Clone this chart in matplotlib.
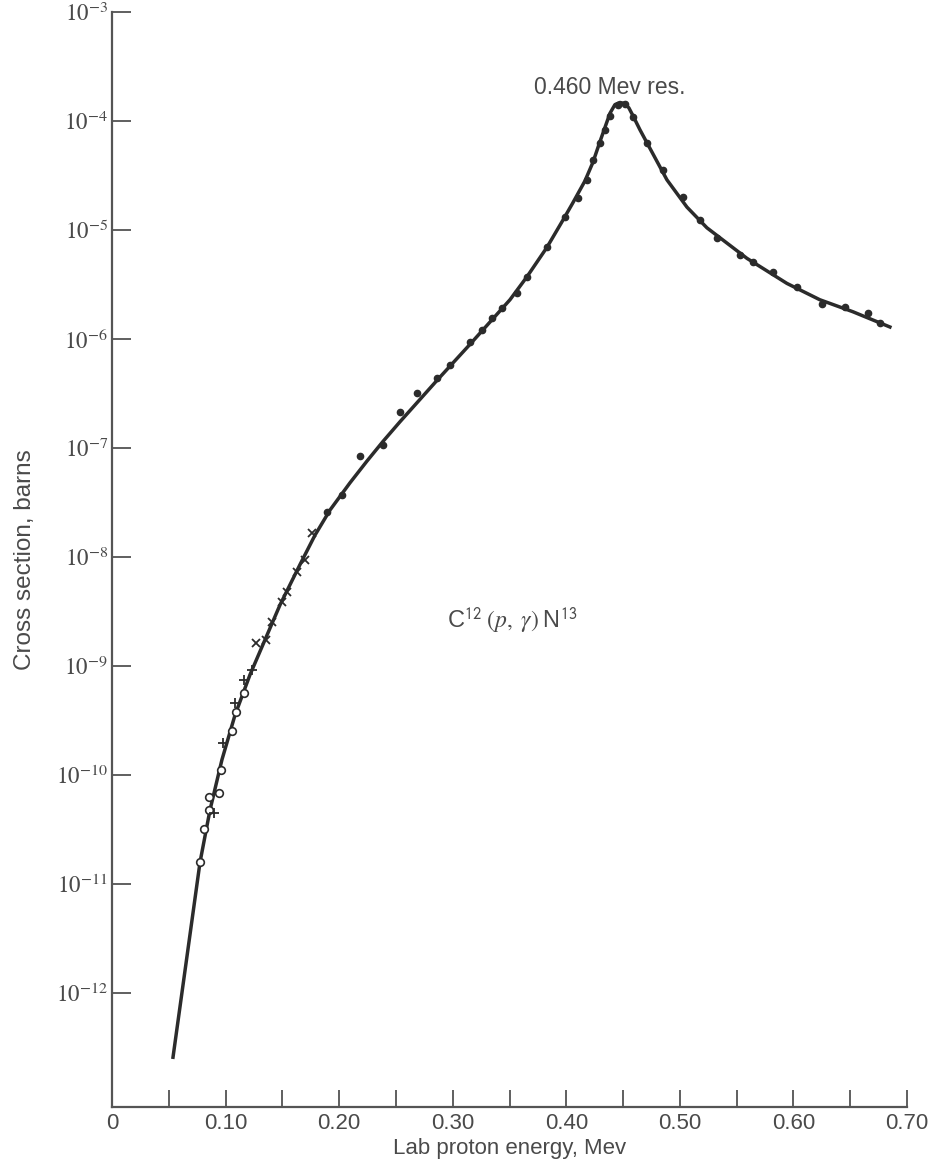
import numpy as np
import matplotlib
matplotlib.use("Agg")
import matplotlib.pyplot as plt
from matplotlib.ticker import FixedLocator, NullLocator, NullFormatter

plt.rcParams['font.family'] = ['Liberation Sans', 'DejaVu Sans']
plt.rcParams['mathtext.fontset'] = 'stix'

# Сглаженная кривая (энергия, МэВ; log10 сечения, барн)
curve_e = [0.0537, 0.0775, 0.0863, 0.0968, 0.1083, 0.1215, 0.1347, 0.1479,
           0.1655, 0.1787, 0.1919, 0.2095, 0.2245, 0.2386, 0.2535, 0.2711, 0.2861,
           0.3151, 0.3504, 0.3653, 0.3829, 0.3970, 0.4058, 0.4164, 0.4234, 0.4296,
           0.4384, 0.4428, 0.4472, 0.4516, 0.4551, 0.4586, 0.4648, 0.4710, 0.4886,
           0.5062, 0.5238, 0.5590, 0.5942, 0.6232, 0.6523, 0.6849]
curve_logs = [-12.59, -10.80, -10.32, -9.86, -9.45, -9.08, -8.76, -8.44,
              -8.07, -7.80, -7.57, -7.32, -7.12, -6.94, -6.76, -6.555, -6.38,
              -6.05, -5.64, -5.43, -5.16, -4.91, -4.75, -4.55, -4.38, -4.19,
              -3.93, -3.85, -3.83, -3.84, -3.88, -3.95, -4.08, -4.20, -4.54,
              -4.79, -4.98, -5.26, -5.49, -5.64, -5.75, -5.89]

# Открытые кружки
circ_e = [0.0775, 0.0810, 0.0854, 0.0854, 0.0942, 0.0960, 0.1056, 0.1092, 0.1162]
circ_logs = [-10.80, -10.50, -10.32, -10.20, -10.17, -9.95, -9.60, -9.42, -9.25]

# Плюсы
plus_e = [0.0898, 0.0977, 0.1083, 0.1162, 0.1232]
plus_logs = [-10.35, -9.71, -9.34, -9.13, -9.04]

# Крестики
cross_e = [0.1268, 0.1356, 0.1408, 0.1496, 0.1540, 0.1629, 0.1699, 0.1761]
cross_logs = [-8.79, -8.76, -8.60, -8.41, -8.32, -8.14, -8.03, -7.78]

# Закрашенные точки
dot_e = [0.1893, 0.2025, 0.2183, 0.2386, 0.2535, 0.2685, 0.2861, 0.2975, 0.3151,
         0.3257, 0.3345, 0.3433, 0.3565, 0.3653, 0.3829, 0.3988, 0.4102, 0.4181,
         0.4234, 0.4296, 0.4340, 0.4384, 0.4454, 0.4516, 0.4586, 0.4710, 0.4850,
         0.5026, 0.5176, 0.5326, 0.5528, 0.5643, 0.5819, 0.6030, 0.6250, 0.6452,
         0.6655, 0.6761]
dot_logs = [-7.59, -7.43, -7.07, -6.97, -6.67, -6.50, -6.36, -6.24, -6.03,
            -5.92, -5.81, -5.72, -5.58, -5.43, -5.16, -4.88, -4.71, -4.54,
            -4.36, -4.20, -4.08, -3.95, -3.85, -3.84, -3.96, -4.20, -4.45,
            -4.70, -4.91, -5.07, -5.23, -5.29, -5.39, -5.52, -5.68, -5.71,
            -5.76, -5.85]

x_ticks = [0, 0.10, 0.20, 0.30, 0.40, 0.50, 0.60, 0.70]
x_labels = ['0', '0.10', '0.20', '0.30', '0.40', '0.50', '0.60', '0.70']
y_exps = [-3, -4, -5, -6, -7, -8, -9, -10, -11, -12]

ink = '#2b2b2b'
txt = '#4a4a4a'
fig = plt.figure(figsize=(9.35, 11.64), dpi=100)
ax = fig.add_axes([0.1198, 0.049, 0.8503, 0.9407])

ax.plot(curve_e, 10.0 ** np.array(curve_logs), color=ink, lw=2.5, zorder=2)
ax.plot(dot_e, 10.0 ** np.array(dot_logs), 'o', ms=4.5, color=ink, zorder=3)
ax.plot(circ_e, 10.0 ** np.array(circ_logs), 'o', ms=5.5, mfc='white', mec=ink, mew=1.2, zorder=3)
ax.plot(plus_e, 10.0 ** np.array(plus_logs), '+', ms=7, mec=ink, mew=1.3, zorder=3)
ax.plot(cross_e, 10.0 ** np.array(cross_logs), 'x', ms=6, mec=ink, mew=1.3, zorder=3)

ax.set_yscale('log')
ax.set_xlim(0, 0.70)
ax.set_ylim(10 ** -13.046, 1e-3)

ax.yaxis.set_major_locator(FixedLocator([10.0 ** e for e in y_exps]))
ax.yaxis.set_minor_locator(NullLocator())
ax.yaxis.set_minor_formatter(NullFormatter())
ax.set_yticklabels([r'$10^{%d}$' % e for e in y_exps], fontsize=16.5, color=txt)

ax.xaxis.set_major_locator(FixedLocator(x_ticks))
ax.xaxis.set_minor_locator(FixedLocator(np.arange(0.05, 0.70, 0.10)))
ax.set_xticklabels(x_labels, fontsize=16, color=txt)

ax.tick_params(axis='both', which='both', direction='in', color='#444444', width=1.2)
ax.tick_params(axis='x', which='both', length=12, pad=4)
ax.tick_params(axis='y', which='major', length=14, pad=3)

for s in ['top', 'right']:
    ax.spines[s].set_visible(False)
for s in ['left', 'bottom']:
    ax.spines[s].set_color('#555555')
    ax.spines[s].set_linewidth(1.6)

ax.set_xlabel('Lab proton energy, Mev', fontsize=16, color=txt, labelpad=3)
ax.set_ylabel('Cross section, barns', fontsize=17.5, color=txt)
ax.yaxis.set_label_coords(-0.096, 0.5)

ax.text(0.438, 10 ** -3.69, '0.460 Mev res.', fontsize=16.5, color=txt,
        ha='center', va='center')
ax.text(0.295, 10 ** -8.58, r'C$^{\mathsf{12}}\;(p,\;\gamma)\;$N$^{\mathsf{13}}$',
        fontsize=17, color=txt, ha='left', va='center')

fig.savefig('out.png', dpi=100)
